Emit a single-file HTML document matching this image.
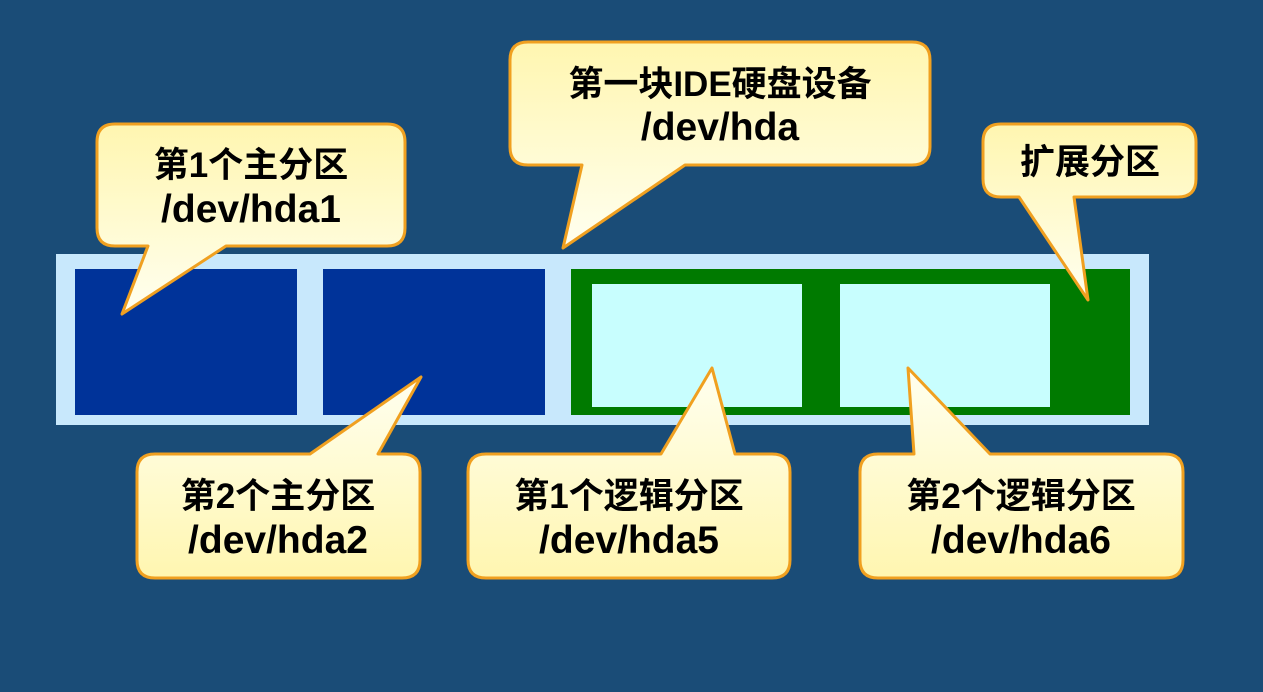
<!DOCTYPE html>
<html><head><meta charset="utf-8"><style>
html,body{margin:0;padding:0;background:#1a4c77;}
svg{display:block}
text{font-family:"Liberation Sans","Noto Sans CJK SC",sans-serif;font-weight:bold;font-size:35px;fill:#000;text-anchor:middle}
text.l{font-size:39px}
</style></head><body>
<svg width="1263" height="692" viewBox="0 0 1263 692" xmlns="http://www.w3.org/2000/svg">
<defs>
<linearGradient id="g" x1="0" y1="0" x2="0" y2="1">
<stop offset="0" stop-color="#fff6b0"/><stop offset="1" stop-color="#fffff0"/></linearGradient>
<linearGradient id="g2" x1="0" y1="1" x2="0" y2="0">
<stop offset="0" stop-color="#fff6b0"/><stop offset="1" stop-color="#fffff0"/></linearGradient>
</defs>
<rect width="1263" height="692" fill="#1a4c77"/>
<rect x="56" y="254" width="1093" height="171" fill="#c8e8fc"/>
<rect x="75" y="269" width="222" height="146" fill="#003399"/>
<rect x="323" y="269" width="222" height="146" fill="#003399"/>
<rect x="571" y="269" width="559" height="146" fill="#007a00"/>
<rect x="592" y="284" width="210" height="123" fill="#c8fefe"/>
<rect x="840" y="284" width="210" height="123" fill="#c8fefe"/>
<g stroke="#f0a020" stroke-width="3" stroke-linejoin="round">
<path fill="url(#g)" d="M115,124 H387 Q405,124 405,142 V228 Q405,246 387,246 H226 L122,314 L148,246 H115 Q97,246 97,228 V142 Q97,124 115,124 Z"/>
<path fill="url(#g)" d="M528,42 H912 Q930,42 930,60 V147 Q930,165 912,165 H685 L563,248 L582,165 H528 Q510,165 510,147 V60 Q510,42 528,42 Z"/>
<path fill="url(#g)" d="M1001,124 H1178 Q1196,124 1196,142 V179 Q1196,197 1178,197 H1074 L1088,300 L1019,197 H1001 Q983,197 983,179 V142 Q983,124 1001,124 Z"/>
<path fill="url(#g2)" d="M155,454 H310 L421,377 L378,454 H402 Q420,454 420,472 V560 Q420,578 402,578 H155 Q137,578 137,560 V472 Q137,454 155,454 Z"/>
<path fill="url(#g2)" d="M486,454 H661 L712,368 L735,454 H772 Q790,454 790,472 V560 Q790,578 772,578 H486 Q468,578 468,560 V472 Q468,454 486,454 Z"/>
<path fill="url(#g2)" d="M878,454 H914 L908,368 L990,454 H1165 Q1183,454 1183,472 V560 Q1183,578 1165,578 H878 Q860,578 860,560 V472 Q860,454 878,454 Z"/>
</g>
<text x="251" y="177">第1个主分区</text><text class="l" x="251" y="222">/dev/hda1</text>
<text x="720" y="96">第一块IDE硬盘设备</text><text class="l" x="720" y="140">/dev/hda</text>
<text x="1090" y="174">扩展分区</text>
<text x="278" y="508">第2个主分区</text><text class="l" x="278" y="553">/dev/hda2</text>
<text x="629" y="508">第1个逻辑分区</text><text class="l" x="629" y="553">/dev/hda5</text>
<text x="1021" y="508">第2个逻辑分区</text><text class="l" x="1021" y="553">/dev/hda6</text>
</svg>
</body></html>
